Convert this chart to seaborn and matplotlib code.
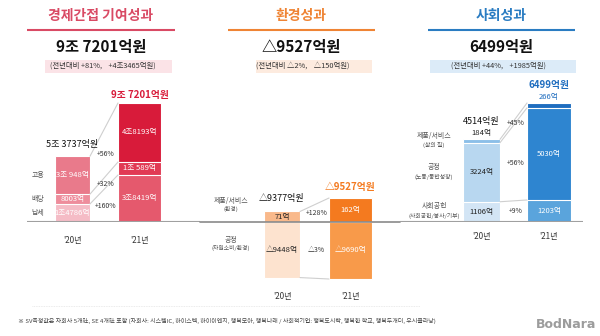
import numpy as np
import matplotlib
matplotlib.use("Agg")
import matplotlib.pyplot as plt
from matplotlib.patches import Rectangle
import seaborn as sns

sns.set_theme(style="white")
plt.rcParams["font.family"] = ["Noto Sans CJK KR", "DejaVu Sans"]

# ---------------------------------------------------------------- data (억원)
years = ["'20", "'21"]
year_labels = ["'20년", "'21년"]

# 경제간접 기여성과: 납세 / 배당 / 고용 (bottom -> top)
econ_tax = [14786, 38419]
econ_div = [8003, 10589]
econ_emp = [30948, 48193]
econ_cats = ["납세", "배당", "고용"]
econ_subtitle = "(전년대비 +81%,    +4조3465억원)"

# 환경성과: 제품/서비스 (positive) / 공정 (negative)
env_product = [71, 162]
env_process = [-9448, -9690]
env_total = [-9377, -9527]
env_cats = [("제품/서비스", "(환경)"), ("공정", "(자원소비/환경)")]
env_subtitle = "(전년대비 △2%,    △150억원)"

# 사회성과: 사회공헌 / 공정 / 제품/서비스 (bottom -> top)
soc_contrib = [1106, 1203]
soc_fair = [3224, 5030]
soc_product = [184, 266]
soc_cats = [("사회공헌", "(사회공헌/봉사/기부)"), ("공정", "(노동/동반성장)"),
            ("제품/서비스", "(삶의 질)")]
soc_subtitle = "(전년대비 +44%,    +1985억원)"

footnote = ("※ SV측정값은 자회사 5개社, SE 4개社 포함 (자회사: 시스템IC, 하이스텍, 하이이엔지, "
            "행복모아, 행복나래 / 사회적기업: 행복도시락, 행복한 학교, 행복두개더, 우시클라낭)")


# ---------------------------------------------------------------- helpers
def fmt_eok(v):
    jo, rest = divmod(abs(v), 10000)
    sign = "△" if v < 0 else ""
    return f"{sign}{jo}조{rest:>4}억" if jo else f"{sign}{rest}억"


def fmt_total(v):
    jo, rest = divmod(abs(v), 10000)
    sign = "△" if v < 0 else ""
    return f"{sign}{jo}조 {rest}억원" if jo else f"{sign}{rest}억원"


def fmt_pct(v0, v1):
    ch = (v1 - v0) / abs(v0)
    return f"{'+' if ch >= 0 else '△'}{abs(round(ch * 100))}%"


W, H = 600, 336
fig = plt.figure(figsize=(6, 3.36), dpi=100)
fig.patch.set_facecolor("white")


def px_axes(L, T, R, B):
    ax = fig.add_axes([L / W, 1 - B / H, (R - L) / W, (B - T) / H], zorder=2)
    ax.patch.set_alpha(0)
    return ax


def bars(ax, heights, pal):
    sns.barplot(x=years, y=heights, hue=years, palette=pal, legend=False, ax=ax,
                saturation=1, edgecolor="white", linewidth=0.8, errorbar=None)


def fit_x(ax, L, R, centers, widths):
    unit = centers[1] - centers[0]
    ax.set_xlim(-(centers[0] - L) / unit, 1 + (R - centers[1]) / unit)
    for p in ax.patches:
        xc = p.get_x() + p.get_width() / 2
        w = (widths[0] if xc < 0.5 else widths[1]) / unit
        p.set_x(xc - w / 2)
        p.set_width(w)
    ax.set_axis_off()
    return unit, (widths[0] / unit / 2, widths[1] / unit / 2)


def stacked(ax, layers, pals):
    tops = list(np.cumsum(np.array(layers), axis=0))
    for top, pal in reversed(list(zip(tops, pals))):
        bars(ax, top, pal)
    return tops


LINE = "#cfcfcf"
BASE = "#a0a0a0"
TXT = "#333333"
CAT = "#555555"

# ---------------------------------------------------------------- 경제간접
eL, eR, eT, eB = 27, 200, 80, 222
e_cent, e_w = (72.5, 139.5), (35, 43)
ax_e = px_axes(eL, eT, eR, eB)
e_layers = [econ_tax, econ_div, econ_emp]
e_pals = [["#f5bcc6", "#e5596d"], ["#ee8d9c", "#e13a54"], ["#e97a8b", "#d81b3a"]]
e_tops = stacked(ax_e, e_layers, e_pals)
e_tot = e_tops[-1]
ax_e.set_ylim(0, max(e_tot) * 1.193)
unit, half = fit_x(ax_e, eL, eR, e_cent, e_w)
ax_e.axhline(0, color=BASE, lw=1.5, zorder=3)
for i, vals in enumerate(e_layers):
    top = e_tops[i]
    bot = top - np.array(vals)
    mids = (top + bot) / 2
    for j in range(2):
        ax_e.text(j, mids[j], fmt_eok(vals[j]), ha="center", va="center",
                  fontsize=5.5, color="white", zorder=4)
    ax_e.plot([half[0], 1 - half[1]], [top[0], top[1]], color=LINE, lw=0.8, zorder=1)
    ax_e.text(0.5, mids.mean(), fmt_pct(vals[0], vals[1]), ha="center", va="center",
              fontsize=5, color=TXT)
    ax_e.text((38 - e_cent[0]) / unit, mids[0], econ_cats[i], ha="center", va="center",
              fontsize=5, color=CAT)
ax_e.annotate(fmt_total(e_tot[0]), (0, e_tot[0]), xytext=(0, 5), textcoords="offset points",
              ha="center", va="bottom", fontsize=6.5, color="#111111")
ax_e.annotate(fmt_total(e_tot[1]), (1, e_tot[1]), xytext=(0, 2.5), textcoords="offset points",
              ha="center", va="bottom", fontsize=7, color="#d81b3a", fontweight="bold")

# ---------------------------------------------------------------- 환경
vL, vR = 200, 400
v_cent, v_w = (282, 350.5), (36, 43)
ax_u = px_axes(vL, 180, vR, 222)
ax_l = px_axes(vL, 222, vR, 290)
bars(ax_u, env_product, ["#f9b98b", "#f47a1f"])
bars(ax_l, env_process, ["#fde3cf", "#f89a4a"])
ax_u.set_ylim(0, max(env_product) * 1.75)
ax_l.set_ylim(min(env_process) * 1.193, 0)
unit_v, half_v = fit_x(ax_u, vL, vR, v_cent, v_w)
fit_x(ax_l, vL, vR, v_cent, v_w)
ax_l.axhline(0, color="#8a8a8a", lw=1.2, zorder=3, clip_on=False)
for ax, vals in [(ax_u, env_product), (ax_l, env_process)]:
    for j, c in enumerate(["#222222", "white"]):
        ax.text(j, vals[j] / 2, fmt_eok(vals[j]), ha="center", va="center",
                fontsize=5.5, color=c, zorder=4)
    ax.plot([half_v[0], 1 - half_v[1]], vals, color=LINE, lw=0.8, zorder=1)
    ax.text(0.5, np.mean(vals) / 2, fmt_pct(vals[0], vals[1]), ha="center", va="center",
            fontsize=5, color=TXT)
ax_u.annotate(fmt_total(env_total[0]), (0, env_product[0]), xytext=(0, 6),
              textcoords="offset points", ha="center", va="bottom", fontsize=6.5,
              color="#111111")
ax_u.annotate(fmt_total(env_total[1]), (1, env_product[1]), xytext=(0, 4),
              textcoords="offset points", ha="center", va="bottom", fontsize=7,
              color="#f47a1f", fontweight="bold")

# ---------------------------------------------------------------- 사회
sL, sR, sT, sB = 400, 583, 80, 222
s_cent, s_w = (481.5, 549), (37, 44)
ax_s = px_axes(sL, sT, sR, sB)
s_layers = [soc_contrib, soc_fair, soc_product]
s_pals = [["#d3e5f5", "#5aa4dc"], ["#b8d7f0", "#2e85d0"], ["#8cbfe8", "#1f6dbf"]]
s_tops = stacked(ax_s, s_layers, s_pals)
s_tot = s_tops[-1]
ax_s.set_ylim(0, max(s_tot) * 1.193)
unit_s, half_s = fit_x(ax_s, sL, sR, s_cent, s_w)
ax_s.axhline(0, color=BASE, lw=1.5, zorder=3)
for i, vals in enumerate(s_layers):
    top = s_tops[i]
    bot = top - np.array(vals)
    mids = (top + bot) / 2
    if i < len(s_layers) - 1:
        for j, c in enumerate(["#222222", "white"]):
            ax_s.text(j, mids[j], fmt_eok(vals[j]), ha="center", va="center",
                      fontsize=5.5, color=c, zorder=4)
    ax_s.plot([half_s[0], 1 - half_s[1]], [top[0], top[1]], color=LINE, lw=0.8, zorder=1)
    ax_s.text(0.5, mids.mean(), fmt_pct(vals[0], vals[1]), ha="center", va="center",
              fontsize=5, color=TXT)
    name, sub = soc_cats[i]
    xc = (434 - s_cent[0]) / unit_s
    ax_s.annotate(name, (xc, mids[0]), xytext=(0, 1), textcoords="offset points",
                  ha="center", va="bottom", fontsize=5, color=CAT)
    ax_s.annotate(sub, (xc, mids[0]), xytext=(0, -1), textcoords="offset points",
                  ha="center", va="top", fontsize=4.2, color=CAT)
# the thin top segment is labelled just above each bar, under the total
for j, (seg_c, tot_c, tot_w, tot_fs) in enumerate([("#222222", "#111111", "normal", 6.5),
                                                   ("#1f6dbf", "#1f6dbf", "bold", 7)]):
    ax_s.annotate(fmt_eok(soc_product[j]), (j, s_tot[j]), xytext=(0, 1.5),
                  textcoords="offset points", ha="center", va="bottom", fontsize=5.5,
                  color=seg_c)
    ax_s.annotate(fmt_total(s_tot[j]), (j, s_tot[j]), xytext=(0, 9.5),
                  textcoords="offset points", ha="center", va="bottom",
                  fontsize=tot_fs, color=tot_c, fontweight=tot_w)

# ---------------------------------------------------------------- headers, labels, notes
ov = fig.add_axes([0, 0, 1, 1], zorder=5)
ov.set_xlim(0, W)
ov.set_ylim(H, 0)
ov.set_axis_off()
ov.patch.set_alpha(0)

headers = [
    ("경제간접 기여성과", "#d94a64", 27, 175, fmt_total(e_tot[1]),
     econ_subtitle, "#fbe3e7", (45, 172), 103),
    ("환경성과", "#ef8434", 228, 375, fmt_total(env_total[1]), env_subtitle, "#fdebdf",
     (256, 372), 303),
    ("사회성과", "#2a7cc2", 428, 575, fmt_total(s_tot[1]), soc_subtitle, "#dcebf8",
     (430, 576), 498),
]
for title, col, x0, x1, head, sub, box, (b0, b1), sx in headers:
    xc = (x0 + x1) / 2
    ov.text(xc, 16, title, ha="center", va="center", fontsize=10, color=col,
            fontweight="bold")
    ov.plot([x0, x1], [30, 30], color=col, lw=1.5, solid_capstyle="butt")
    ov.text(xc, 47, head, ha="center", va="center", fontsize=11, color="#111111",
            fontweight="bold")
    ov.add_patch(Rectangle((b0, 59.5), b1 - b0, 13, facecolor=box, edgecolor="none"))
    ov.text(sx, 66, sub, ha="center", va="center", fontsize=5.3, color="#333333")

for centers, y in [(e_cent, 240), (v_cent, 296), (s_cent, 237)]:
    for cx, lab in zip(centers, year_labels):
        ov.text(cx, y, lab, ha="center", va="center", fontsize=5.8, color=TXT)

for (name, sub), y in zip(env_cats, [205, 244]):
    ov.text(231, y - 4, name, ha="center", va="center", fontsize=5, color=CAT)
    ov.text(231, y + 4, sub, ha="center", va="center", fontsize=4.2, color=CAT)

ov.plot([32, 420], [306, 306], color="#e4e4e4", lw=0.6, ls=(0, (1, 1)))
ov.text(18, 321, footnote, ha="left", va="center", fontsize=4.3, color="#444444")
ov.text(566, 325, "BodNara", ha="center", va="center", fontsize=9, fontweight="bold",
        color="#9c9c9c", family="DejaVu Sans")

fig.savefig("out.png", dpi=100, facecolor="white")
